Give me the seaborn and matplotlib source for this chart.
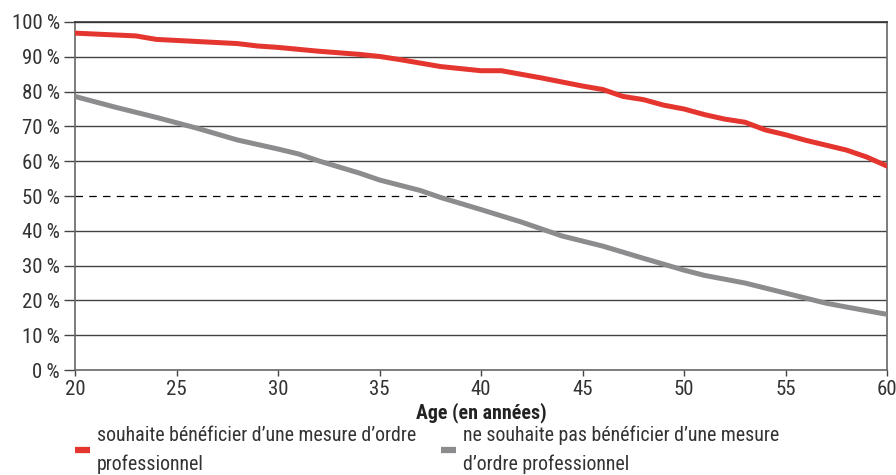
import pandas as pd
import matplotlib.pyplot as plt
import seaborn as sns
from matplotlib.ticker import FuncFormatter

# Data (share in %, by age)
ages_red = [20, 23, 24, 25, 28, 29, 30, 32, 34, 35, 36, 38, 40, 41, 43, 45, 46,
            47, 48, 49, 50, 51, 52, 53, 54, 55, 56, 57, 58, 59, 60]
souhaite = [96.8, 96.0, 95.0, 94.7, 93.8, 93.1, 92.7, 91.6, 90.7, 90.1, 89.2, 87.2,
            86.0, 86.0, 83.9, 81.6, 80.6, 78.6, 77.7, 76.1, 75.0, 73.4, 72.1, 71.2,
            69.0, 67.6, 66.0, 64.6, 63.2, 61.2, 58.6]
ages_grey = [20, 22, 24, 26, 28, 30, 31, 32, 34, 35, 37, 38, 40, 42, 44, 46, 48,
             50, 51, 53, 55, 57, 58, 60]
ne_souhaite = [78.6, 75.5, 72.6, 69.5, 66.1, 63.5, 62.1, 60.1, 56.6, 54.6, 51.6,
               49.6, 46.1, 42.5, 38.5, 35.6, 32.1, 28.7, 27.2, 25.0, 22.1, 19.2,
               18.1, 16.0]
labels = ["souhaite bénéficier d\u2019une mesure d\u2019ordre\nprofessionnel",
          "ne souhaite pas bénéficier d\u2019une mesure\nd\u2019ordre professionnel"]

df = pd.concat([
    pd.DataFrame({'age': ages_red, 'part': souhaite, 'groupe': labels[0]}),
    pd.DataFrame({'age': ages_grey, 'part': ne_souhaite, 'groupe': labels[1]}),
])

sns.set_theme(style="white")
plt.rcParams['font.family'] = ['Roboto Condensed', 'Roboto', 'DejaVu Sans']

fig = plt.figure(figsize=(8.96, 4.75), dpi=100)
ax = fig.add_axes([0.0837, 0.221, 0.9063, 0.7327])

# grid
for v in range(10, 101, 10):
    if v == 50:
        ax.axhline(v, color='black', lw=0.9, ls=(0, (6, 5)), zorder=1)
    else:
        ax.axhline(v, color='#444444', lw=1.0, zorder=1)

sns.lineplot(data=df, x='age', y='part', hue='groupe',
             palette=['#e4352f', '#8c8c8e'], linewidth=3.6, ax=ax, zorder=3)

ax.set_xlim(20, 60)
ax.set_ylim(0, 100)
ax.set_xticks(range(20, 61, 5))
ax.set_yticks(range(0, 101, 10))
ax.yaxis.set_major_formatter(FuncFormatter(lambda v, p: f"{int(v)}\u202f%"))
ax.tick_params(axis='both', which='major', labelsize=15, colors='#444444',
               labelcolor='#333333', width=1, direction='out',
               bottom=True, left=True)
ax.tick_params(axis='y', length=8, pad=3)
ax.tick_params(axis='x', length=4.5, pad=3)
for side in ['left', 'right', 'bottom', 'top']:
    ax.spines[side].set_color('#666666')
    ax.spines[side].set_linewidth(1.2)
ax.spines['top'].set_color('#333333')

ax.set_xlabel('Age (en années)', fontsize=14.3, fontweight='bold', color='#222222',
              labelpad=2)
ax.set_ylabel('')

handles, leg_labels = ax.get_legend_handles_labels()
for h in handles:
    h.set_solid_capstyle('butt')
    h.set_linewidth(4.5)
leg = ax.legend(handles, leg_labels, loc='upper left', bbox_to_anchor=(0.0, -0.16),
                ncol=2, frameon=False, fontsize=14.3, handlelength=0.75,
                handletextpad=0.35, columnspacing=1.25, labelcolor='#333333',
                borderaxespad=0, borderpad=0)
for t in leg.get_texts():
    t.set_linespacing(1.6)

fig.savefig('out.png', dpi=100)
